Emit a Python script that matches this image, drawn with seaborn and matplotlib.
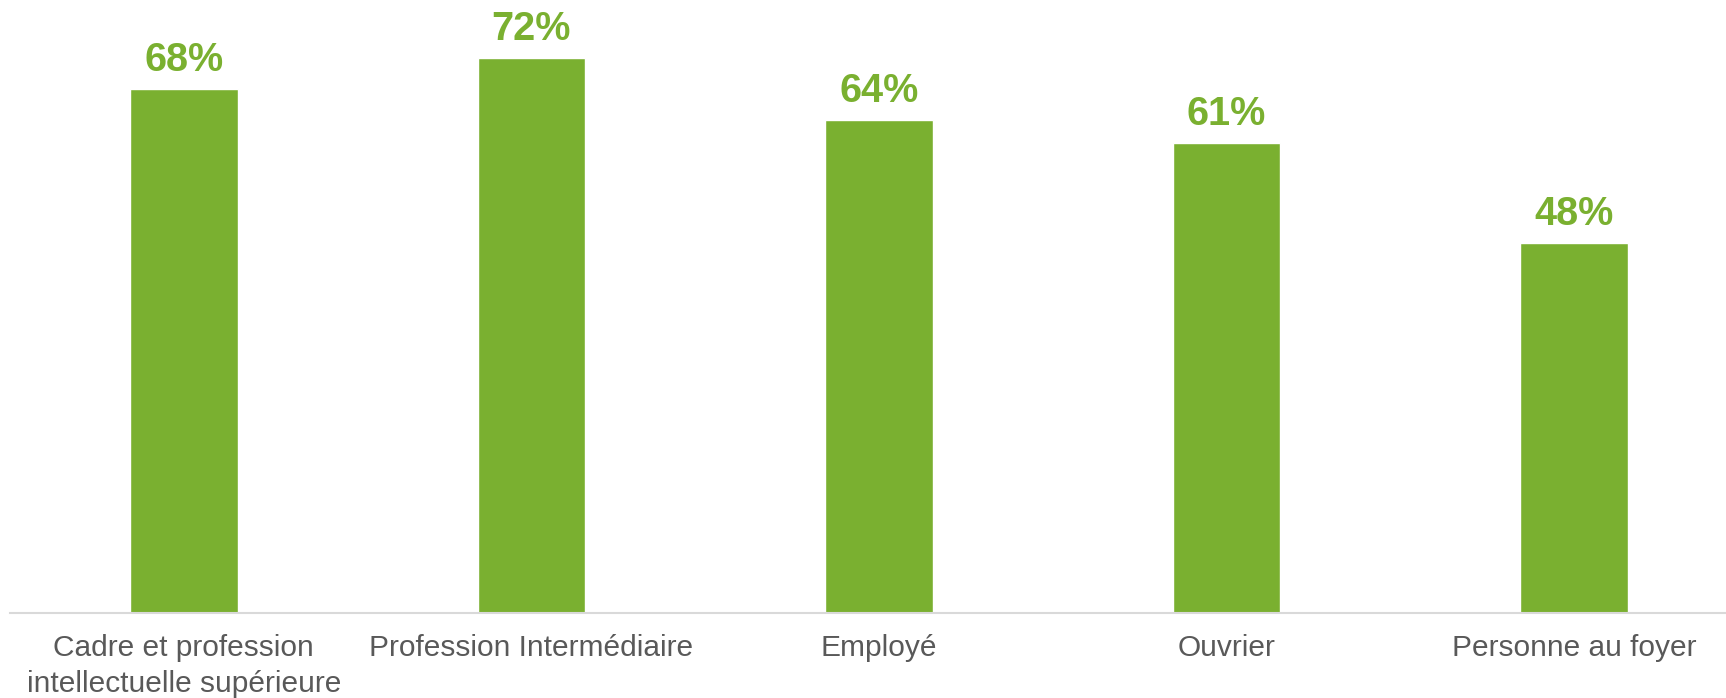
import matplotlib
matplotlib.use("Agg")
import matplotlib.pyplot as plt
import seaborn as sns
import pandas as pd

# Data
categories = ["Cadre et profession\nintellectuelle supérieure", "Profession Intermédiaire",
              "Employé", "Ouvrier", "Personne au foyer"]
values = [68, 72, 64, 61, 48]

df = pd.DataFrame({"cat": categories, "val": values})

sns.set_style("white")
plt.rcParams["font.family"] = ["Liberation Sans", "DejaVu Sans"]

green = "#7AB030"
fig = plt.figure(figsize=(17.26, 6.98), dpi=100)
ax = fig.add_axes([10 / 1726, 85 / 698, 1738 / 1726, 613 / 698])

sns.barplot(data=df, x="cat", y="val", color=green, width=0.31, saturation=1, ax=ax)

ax.set_xlim(-0.5, 4.5)
ax.set_ylim(0, 79.5)

# value labels above the bars
for i, v in enumerate(values):
    ax.text(i, v + 2.3, f"{v}%", ha="center", va="baseline", fontsize=28.5,
            fontweight="bold", color=green)

ax.set_xlabel("")
ax.set_ylabel("")
ax.set_yticks([])
ax.tick_params(axis="x", length=0, pad=15, labelsize=21.5, labelcolor="#595959")
for lbl in ax.get_xticklabels():
    lbl.set_linespacing(1.35)
for s in ["top", "right", "left"]:
    ax.spines[s].set_visible(False)
ax.spines["bottom"].set_color("#D9D9D9")
ax.spines["bottom"].set_linewidth(1.5)

fig.savefig("out.png", dpi=100)
